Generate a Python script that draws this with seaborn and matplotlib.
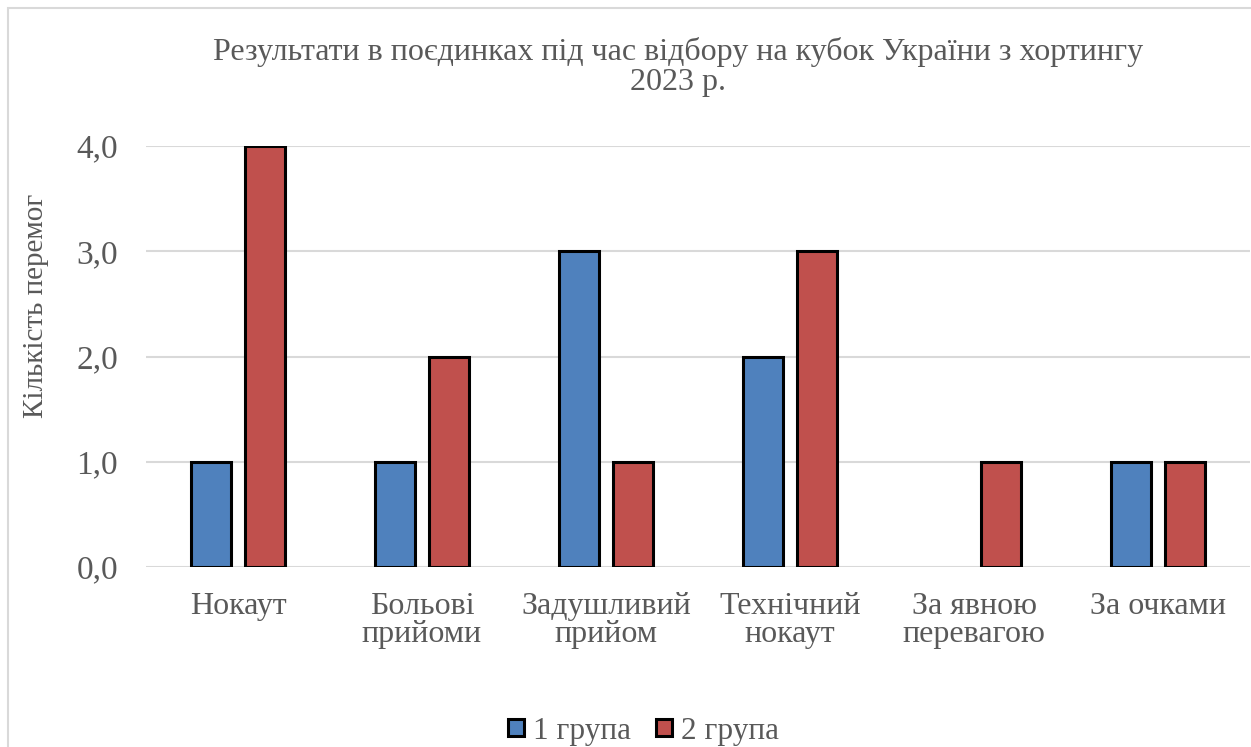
import pandas as pd
import matplotlib.pyplot as plt
import seaborn as sns
from matplotlib.patches import Rectangle
from matplotlib.ticker import FuncFormatter

# дані з діаграми
categories = ['Нокаут', 'Больові\nприйоми', 'Задушливий\nприйом', 'Технічний\nнокаут',
              'За явною\nперевагою', 'За очками']
group1 = [1, 1, 3, 2, 0, 1]
group2 = [4, 2, 1, 3, 1, 1]
groups = ['1 група', '2 група']

df = pd.DataFrame({
    'cat': categories * 2,
    'val': group1 + group2,
    'grp': [groups[0]] * len(categories) + [groups[1]] * len(categories),
})

sns.set_theme(style='white')
plt.rcParams['font.family'] = ['Liberation Serif', 'DejaVu Serif']
text_col = '#595959'

fig = plt.figure(figsize=(12.51, 7.47), dpi=100)
ax = fig.add_axes([146 / 1251, 1 - 567 / 747, 1104 / 1251, 421 / 747])

sns.barplot(data=df, x='cat', y='val', hue='grp', hue_order=groups,
            palette=['#4F81BD', '#C0504D'], saturation=1, width=0.59, gap=0.25,
            edgecolor='black', linewidth=2.2, ax=ax)

# нульові стовпці не малюємо
for p in ax.patches:
    if p.get_height() == 0:
        p.set_linewidth(0)

ax.set_ylim(0, 4)
ax.set_xlim(-0.5, len(categories) - 0.5)
ax.set_yticks([0, 1, 2, 3, 4])
ax.yaxis.set_major_formatter(FuncFormatter(lambda v, _: f'{v:.1f}'.replace('.', ',')))
ax.grid(axis='y', color='#d9d9d9', linewidth=1.5)
ax.set_axisbelow(True)
for s in ax.spines.values():
    s.set_visible(False)
ax.tick_params(axis='y', length=0, pad=20, labelsize=24, labelcolor=text_col)
ax.tick_params(axis='x', length=0, pad=18, labelsize=23, labelcolor=text_col)
for t in ax.get_xticklabels():
    t.set_linespacing(0.97)
ax.set_xlabel('')
ax.set_ylabel('Кількість перемог', fontsize=21, color=text_col)
ax.yaxis.set_label_coords(-0.088, 0.62)

fig.text(678 / 1251, 1 - 67 / 747, 'Результати в поєдинках під час відбору на кубок України з хортингу\n2023 р.',
         ha='center', va='center', fontsize=23, color=text_col, linespacing=1.08)

sns.move_legend(ax, 'center', bbox_to_anchor=(644 / 1251, 1 - 731 / 747),
                bbox_transform=fig.transFigure, ncol=2, frameon=False, title=None,
                fontsize=22.5, handlelength=0.5, handleheight=0.5, handletextpad=0.3,
                columnspacing=0.8, labelcolor=text_col)

# рамка області діаграми
fig.patches.append(Rectangle((8 / 1251, -0.05), 1.1, 1.05 - 8 / 747, transform=fig.transFigure,
                             fill=False, edgecolor='#d9d9d9', linewidth=1.5))

fig.savefig('out.png', dpi=100)
